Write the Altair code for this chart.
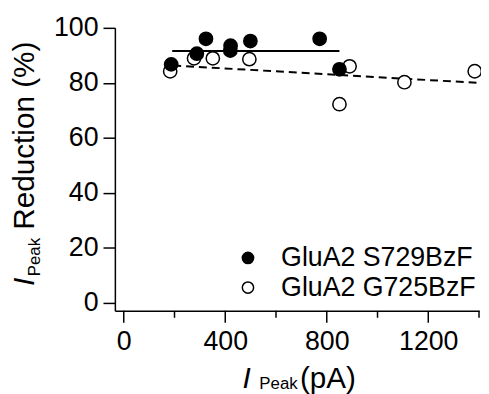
import altair as alt
import pandas as pd

# ---- data ----
series_names = ["GluA2 S729BzF", "GluA2 G725BzF"]
s729_x = [187, 288, 324, 421, 420, 499, 772, 850]
s729_y = [86.7, 90.6, 96.0, 93.5, 91.7, 95.2, 96.0, 84.9]
g725_x = [183, 277, 351, 495, 850, 890, 1106, 1383]
g725_y = [84.2, 88.9, 88.9, 88.6, 72.2, 86.0, 80.2, 84.2]

s729_fit_x = [191, 850]
s729_fit_y = [91.6, 91.6]
g725_fit_x = [195, 1390]
g725_fit_y = [86.3, 80.0]

x_ticks = [0, 400, 800, 1200]
x_minor = [200, 600, 1000, 1400]
y_ticks = [0, 20, 40, 60, 80, 100]
x_title_parts = ["I", "Peak", "(pA)"]
y_title_parts = ["I", "Peak", "Reduction (%)"]

FONT = "Liberation Sans"
W, H = 368, 286

pts = pd.DataFrame(
    {"x": g725_x + s729_x,
     "y": g725_y + s729_y,
     "series": [series_names[1]] * len(g725_x) + [series_names[0]] * len(s729_x)}
)
fit1 = pd.DataFrame({"x": s729_fit_x, "y": s729_fit_y})
fit2 = pd.DataFrame({"x": g725_fit_x, "y": g725_fit_y})
major = pd.DataFrame({"x": x_ticks})
minor = pd.DataFrame({"x": x_minor})

xscale = alt.Scale(domain=[-35, 1400], nice=False, zero=False)
yscale = alt.Scale(domain=[-3, 100], nice=False, zero=False)

xaxis = alt.Axis(values=x_ticks, format="d", title=None, grid=False, domain=True, ticks=False,
                 domainWidth=1.5, domainColor="black",
                 labelFont=FONT, labelFontSize=27,
                 labelColor="black", labelPadding=18)
yaxis = alt.Axis(values=y_ticks, format="d", title=None, grid=False, domain=True, ticks=True,
                 tickSize=12, tickWidth=1.5, domainWidth=1.5, domainColor="black",
                 tickColor="black", labelFont=FONT, labelFontSize=27,
                 labelColor="black", labelPadding=5)

base_x = alt.X("x:Q", scale=xscale, axis=xaxis)
base_y = alt.Y("y:Q", scale=yscale, axis=yaxis)

line1 = alt.Chart(fit1).mark_line(color="black", strokeWidth=2).encode(x=base_x, y=base_y)
line2 = alt.Chart(fit2).mark_line(color="black", strokeWidth=2, strokeDash=[8, 5]).encode(x=base_x, y=base_y)

points = alt.Chart(pts).mark_point(shape="circle", size=180, stroke="black", strokeWidth=1.5,
                                    opacity=1, filled=False).encode(
    x=base_x, y=base_y,
    fill=alt.Fill("series:N",
                  scale=alt.Scale(domain=series_names, range=["black", "white"]),
                  legend=alt.Legend(title=None, orient="none", legendX=121, legendY=219,
                                    symbolType="circle", symbolSize=130,
                                    symbolStrokeColor="black", symbolStrokeWidth=1.5,
                                    labelFont=FONT, labelFontSize=27, labelColor="black",
                                    labelOffset=20, rowPadding=2, padding=0,
                                    labelLimit=400)),
    order=alt.Order("series:N", sort="ascending"),
)

major_ticks = alt.Chart(major).mark_rule(color="black", strokeWidth=1.5).encode(
    x=base_x, y=alt.value(H), y2=alt.value(H + 12))
minor_ticks = alt.Chart(minor).mark_rule(color="black", strokeWidth=1.5).encode(
    x=base_x, y=alt.value(H), y2=alt.value(H + 7))


def txt(s, x, y, size=30, angle=0, style="normal"):
    return alt.Chart(pd.DataFrame({"t": [s]})).mark_text(
        font=FONT, fontSize=size, fontStyle=style, align="left", baseline="alphabetic",
        angle=angle, color="black").encode(x=alt.value(x), y=alt.value(y), text="t:N")

titles = [
    txt(x_title_parts[0], 129, 364, 30, 0, "italic"),
    txt(x_title_parts[1], 146, 365, 17),
    txt(x_title_parts[2], 187, 364, 30),
    txt(y_title_parts[0], -82, 261, 30, 270, "italic"),
    txt(y_title_parts[1], -76, 251, 17, 270),
    txt(y_title_parts[2], -82, 204, 30, 270),
]

chart = alt.layer(line1, line2, points, major_ticks, minor_ticks, *titles).properties(
    width=W, height=H, autosize="none",
    padding={"left": 108, "top": 18, "right": 2, "bottom": 84},
).configure_view(stroke=None)

chart.save("out.html", embed_options={"renderer": "svg", "actions": False})
